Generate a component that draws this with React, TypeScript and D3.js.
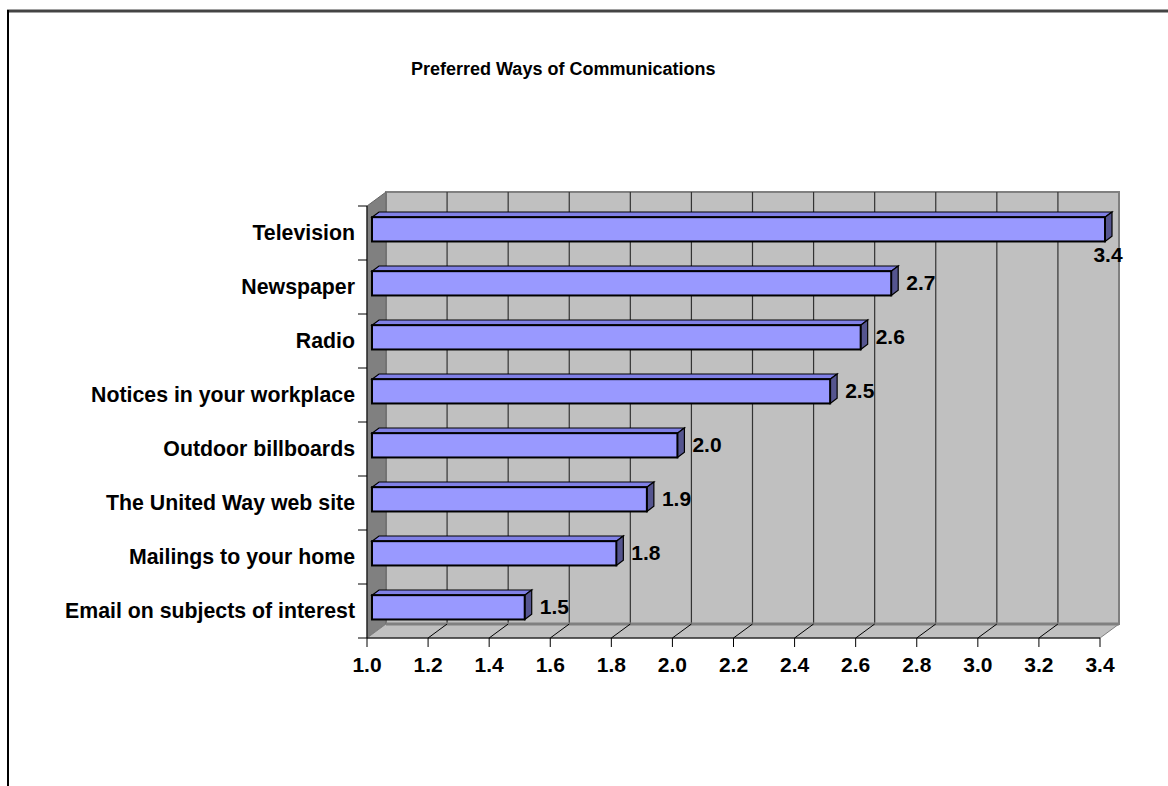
import * as d3 from "d3";

const categories = [
  "Television",
  "Newspaper",
  "Radio",
  "Notices in your workplace",
  "Outdoor billboards",
  "The United Way web site",
  "Mailings to your home",
  "Email on subjects of interest",
];
const values = [3.4, 2.7, 2.6, 2.5, 2.0, 1.9, 1.8, 1.5];
const xTicks = [1.0, 1.2, 1.4, 1.6, 1.8, 2.0, 2.2, 2.4, 2.6, 2.8, 3.0, 3.2, 3.4];
const title = "Preferred Ways of Communications";

const W = 1168;
const H = 786;
const left = 367;
const right = 1100;
const top = 206;
const bottom = 638;
const DX = 19;
const DY = -14;
const font = "Arial, 'Liberation Sans', Helvetica, sans-serif";

export default function App() {
  const x = d3.scaleLinear().domain([1.0, 3.4]).range([left, right]);
  const y = d3.scaleBand<string>().domain(categories).range([top, bottom]);
  const bw = y.bandwidth();
  const barH = bw * 0.45;
  // depth positions of the bar inside the box
  const f0 = 5 / DX;
  const f1 = 12 / DX;

  const pts = (a: [number, number][]) => a.map((p) => p.join(",")).join(" ");

  return (
    <svg width={W} height={H} style={{ position: "absolute", left: 0, top: 0, background: "#fff" }}>
      {/* frame */}
      <line x1={7} x2={W} y1={11} y2={11} stroke="#444" strokeWidth={3} />
      <line x1={8} x2={8} y1={10} y2={H} stroke="#000" strokeWidth={2} />

      <text x={411} y={75} fontFamily={font} fontWeight="bold" fontSize={18} fill="#000">
        {title}
      </text>

      {/* back wall */}
      <rect x={left + DX} y={top + DY} width={right - left} height={bottom - top} fill="#c0c0c0" stroke="#808080" strokeWidth={2} />
      {xTicks.slice(1, -1).map((t) => (
        <line key={"g" + t} x1={x(t) + DX} x2={x(t) + DX} y1={top + DY} y2={bottom + DY} stroke="#333" strokeWidth={1.2} />
      ))}
      {/* left wall */}
      <polygon
        points={pts([[left, top], [left + DX, top + DY], [left + DX, bottom + DY], [left, bottom]])}
        fill="#808080"
        stroke="#666"
        strokeWidth={1}
      />
      {/* floor */}
      <polygon
        points={pts([[left, bottom], [left + DX, bottom + DY], [right + DX, bottom + DY], [right, bottom]])}
        fill="#c0c0c0"
        stroke="#808080"
        strokeWidth={1}
      />
      <line x1={left + DX} x2={right + DX} y1={bottom + DY} y2={bottom + DY} stroke="#808080" strokeWidth={3} />
      {xTicks.slice(1, -1).map((t) => (
        <line key={"f" + t} x1={x(t)} x2={x(t) + DX} y1={bottom} y2={bottom + DY} stroke="#000" strokeWidth={1} />
      ))}
      <line x1={left} x2={right} y1={bottom} y2={bottom} stroke="#000" strokeWidth={1} />
      <line x1={left} x2={left} y1={top} y2={bottom} stroke="#000" strokeWidth={1} />

      {/* axis ticks */}
      {xTicks.map((t) => (
        <g key={"xt" + t}>
          <line x1={x(t)} x2={x(t)} y1={bottom} y2={bottom + 9} stroke="#000" />
          <text x={x(t)} y={672} textAnchor="middle" fontFamily={font} fontWeight="bold" fontSize={21}>
            {t.toFixed(1)}
          </text>
        </g>
      ))}
      {categories.map((c, i) => (
        <line key={"yt" + i} x1={left - 9} x2={left} y1={y(c)!} y2={y(c)!} stroke="#000" />
      ))}
      <line x1={left - 9} x2={left} y1={bottom} y2={bottom} stroke="#000" />
      {categories.map((c) => (
        <text key={"cl" + c} x={355} y={y(c)! + bw / 2 + 7} textAnchor="end" fontFamily={font} fontWeight="bold" fontSize={21.3}>
          {c}
        </text>
      ))}

      {/* bars */}
      {categories.map((c, i) => {
        const v = values[i];
        const cy = y(c)! + bw / 2;
        const ox = DX * f0;
        const oy = DY * f0;
        const bx = DX * f1;
        const by = DY * f1;
        const x0 = x(1.0) + ox;
        const x1 = x(v) + ox;
        const y0 = cy - barH / 2 + oy;
        const y1 = cy + barH / 2 + oy;
        const dx = bx - ox;
        const dy = by - oy;
        const labelBelow = x1 + dx + 50 > right + DX;
        return (
          <g key={"b" + c}>
            <polygon points={pts([[x0, y0], [x0 + dx, y0 + dy], [x1 + dx, y0 + dy], [x1, y0]])} fill="#8080e6" stroke="#000" strokeWidth={1.2} />
            <polygon points={pts([[x1, y0], [x1 + dx, y0 + dy], [x1 + dx, y1 + dy], [x1, y1]])} fill="#55558f" stroke="#000" strokeWidth={1.2} />
            <rect x={x0} y={y0} width={x1 - x0} height={y1 - y0} fill="#9999ff" stroke="#000" strokeWidth={2} />
            {labelBelow ? (
              <text x={x1 + 3} y={y1 + 21} textAnchor="middle" fontFamily={font} fontWeight="bold" fontSize={21}>
                {v.toFixed(1)}
              </text>
            ) : (
              <text x={x1 + dx + 8} y={cy + oy + 7} fontFamily={font} fontWeight="bold" fontSize={21}>
                {v.toFixed(1)}
              </text>
            )}
          </g>
        );
      })}
    </svg>
  );
}
